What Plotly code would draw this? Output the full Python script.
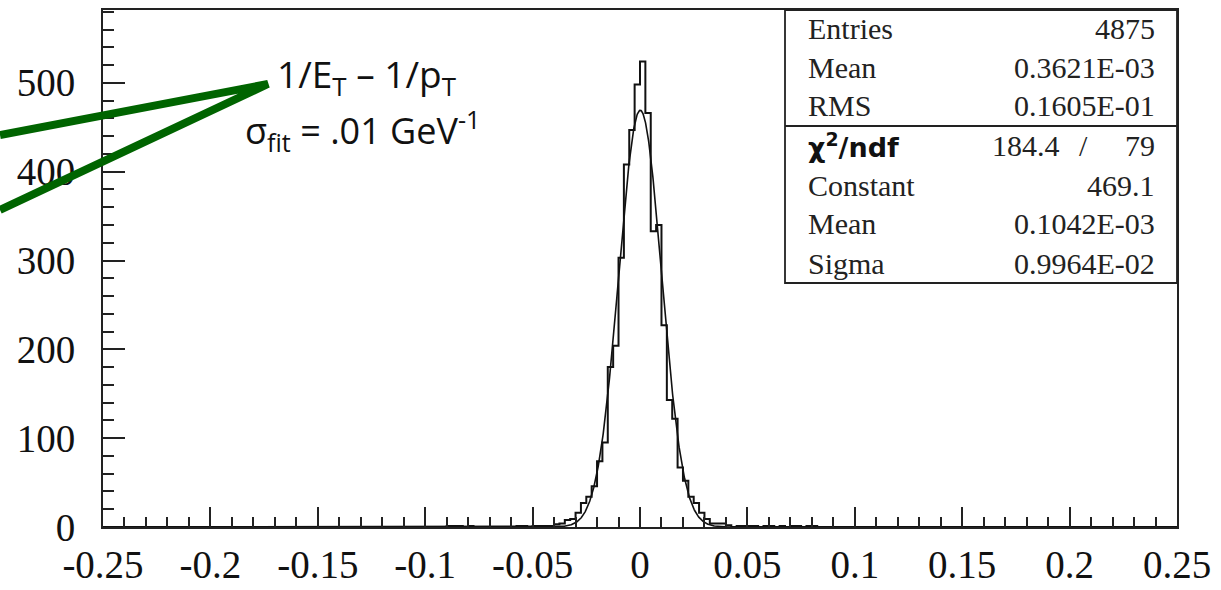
import numpy as np
import plotly.graph_objects as go

# ---------------- data ----------------
BIN_WIDTH = 0.0025
X_MIN, X_MAX = -0.25, 0.25

# lower edges of non-empty bins and their contents
bin_lo = [-0.0900, -0.0875, -0.0850, -0.0800,
          -0.0575, -0.0550, -0.0500, -0.0475, -0.0450, -0.0425,
          -0.0400, -0.0375, -0.0350, -0.0325, -0.0300, -0.0275,
          -0.0250, -0.0225, -0.0200, -0.0175, -0.0150, -0.0125,
          -0.0100, -0.0075, -0.0050, -0.0025,
          0.0000, 0.0025, 0.0050, 0.0075, 0.0100, 0.0125,
          0.0150, 0.0175, 0.0200, 0.0225, 0.0250, 0.0275,
          0.0300, 0.0325, 0.0350, 0.0375, 0.0400, 0.0450,
          0.0475, 0.0500, 0.0525, 0.0575, 0.0600, 0.0650,
          0.0700, 0.0725, 0.0775, 0.0800]
counts = [1, 1, 1, 1,
          1, 1, 1, 1, 1, 1,
          3, 4, 8, 9, 16, 27,
          34, 46, 74, 95, 180, 204,
          303, 408, 447, 498,
          524, 466, 333, 340, 227, 143,
          122, 67, 52, 34, 27, 16,
          9, 4, 4, 4, 2, 1,
          1, 1, 1, 1, 1, 1,
          1, 1, 1, 1]

# fit results (Gaussian) as printed in the stats box
fit_constant = 469.1
fit_mean = 0.1042e-03
fit_sigma = 0.9964e-02

stat_labels = ["Entries", "Mean", "RMS"]
stat_values = ["4875", "0.3621E-03", "0.1605E-01"]
fit_labels = ["Constant", "Mean", "Sigma"]
fit_values = ["469.1", "0.1042E-03", "0.9964E-02"]
chi2_value, ndf_value = "184.4", "79"

x_ticks = [-0.25, -0.2, -0.15, -0.1, -0.05, 0, 0.05, 0.1, 0.15, 0.2, 0.25]
x_ticktext = ["-0.25", "-0.2", "-0.15", "-0.1", "-0.05", "0", "0.05", "0.1", "0.15", "0.2", "0.25"]
y_ticks = [0, 100, 200, 300, 400, 500]

# ---------------- build full histogram ----------------
nbins = int(round((X_MAX - X_MIN) / BIN_WIDTH))
edges = X_MIN + BIN_WIDTH * np.arange(nbins + 1)
full = np.zeros(nbins)
for lo, c in zip(bin_lo, counts):
    full[int(round((lo - X_MIN) / BIN_WIDTH))] = c
hx = edges
hy = np.append(full, full[-1])

fx = np.linspace(X_MIN, X_MAX, 4001)
fy = fit_constant * np.exp(-0.5 * ((fx - fit_mean) / fit_sigma) ** 2)

# ---------------- geometry ----------------
W, H = 1221, 590
L, R, T, B = 103, 44, 10, 63
PW, PH = W - L - R, H - T - B


def px(x):
    return (x - L) / PW


def py(y):
    return (H - B - y) / PH


fig = go.Figure()
fig.add_trace(go.Scatter(x=hx, y=hy, mode="lines", line=dict(color="#111", width=2, shape="hv"),
                         hoverinfo="skip", showlegend=False))
fig.add_trace(go.Scatter(x=fx, y=fy, mode="lines", line=dict(color="#111", width=1.6),
                         hoverinfo="skip", showlegend=False))

serif = "Liberation Serif"
axis_common = dict(showline=True, linecolor="#222", linewidth=1.8, mirror=True,
                   ticks="inside", tickcolor="#222", tickwidth=1.5,
                   showgrid=False, zeroline=False, automargin=False,
                   tickfont=dict(family=serif, size=39, color="#111"))

fig.update_layout(
    width=W, height=H,
    margin=dict(l=L, r=R, t=T, b=B, pad=0, autoexpand=False),
    paper_bgcolor="white", plot_bgcolor="white",
    xaxis=dict(range=[X_MIN, X_MAX], tickvals=x_ticks, ticktext=x_ticktext, ticklen=20,
               minor=dict(ticks="inside", dtick=0.01, ticklen=10, tickcolor="#222", tickwidth=1.5),
               ticklabelstandoff=2, **axis_common),
    yaxis=dict(range=[0, 582], tickvals=y_ticks, ticklen=22,
               minor=dict(ticks="inside", dtick=20, ticklen=11, tickcolor="#222", tickwidth=1.5),
               ticklabelstandoff=18, **axis_common),
)

# ---------------- stats box ----------------
bx0, bx1, by0, by1, bdiv = px(785), px(1177), py(283), py(10), py(126)
fig.add_shape(type="rect", xref="paper", yref="paper", x0=bx0, x1=bx1, y0=by0, y1=by1,
              line=dict(color="#222", width=1.8), fillcolor="white", layer="above")
fig.add_shape(type="line", xref="paper", yref="paper", x0=bx0, x1=bx1, y0=bdiv, y1=bdiv,
              line=dict(color="#222", width=1.8), layer="above")

row_y = [28, 67, 105, 145, 185, 223, 263]
lab_x, val_x = px(806), px(1157)
sfont = dict(family=serif, size=30, color="#222")
labels = stat_labels + [None] + fit_labels
values = stat_values + [None] + fit_values
for ry, lab, val in zip(row_y, labels, values):
    if lab is None:
        continue
    fig.add_annotation(xref="paper", yref="paper", x=lab_x, y=py(ry), text=lab, showarrow=False,
                       xanchor="left", yanchor="middle", font=sfont)
    fig.add_annotation(xref="paper", yref="paper", x=val_x, y=py(ry), text=val, showarrow=False,
                       xanchor="right", yanchor="middle", font=sfont)
# chi2 / ndf row
chi_y = py(row_y[3])
fig.add_annotation(xref="paper", yref="paper", x=lab_x, y=chi_y, text="<b>χ<sup>2</sup>/ndf</b>",
                   showarrow=False, xanchor="left", yanchor="middle",
                   font=dict(family="DejaVu Sans", size=27, color="#111"))
fig.add_annotation(xref="paper", yref="paper", x=px(1062), y=chi_y, text=chi2_value, showarrow=False,
                   xanchor="right", yanchor="middle", font=sfont)
fig.add_annotation(xref="paper", yref="paper", x=px(1083), y=chi_y, text="/", showarrow=False,
                   xanchor="center", yanchor="middle", font=sfont)
fig.add_annotation(xref="paper", yref="paper", x=val_x, y=chi_y, text=ndf_value, showarrow=False,
                   xanchor="right", yanchor="middle", font=sfont)

# ---------------- green pointer & label ----------------
green = "rgb(0,100,0)"
fig.add_shape(type="path", xref="paper", yref="paper",
              path=f"M {px(0)} {py(135)} L {px(268)} {py(84)} L {px(0)} {py(210)}",
              line=dict(color=green, width=8), layer="above")
sans = "Open Sans"
fig.add_annotation(xref="paper", yref="paper", x=px(275), y=py(76),
                   text="1/E<sub>T</sub> – 1/p<sub>T</sub>", showarrow=False,
                   xanchor="left", yanchor="middle", font=dict(family=sans, size=37, color="#111"))
fig.add_annotation(xref="paper", yref="paper", x=px(243), y=py(130),
                   text="σ<sub>fit</sub> = .01 GeV<sup>-1</sup>", showarrow=False,
                   xanchor="left", yanchor="middle", font=dict(family=sans, size=36, color="#111"))

fig.write_html("out.html")
